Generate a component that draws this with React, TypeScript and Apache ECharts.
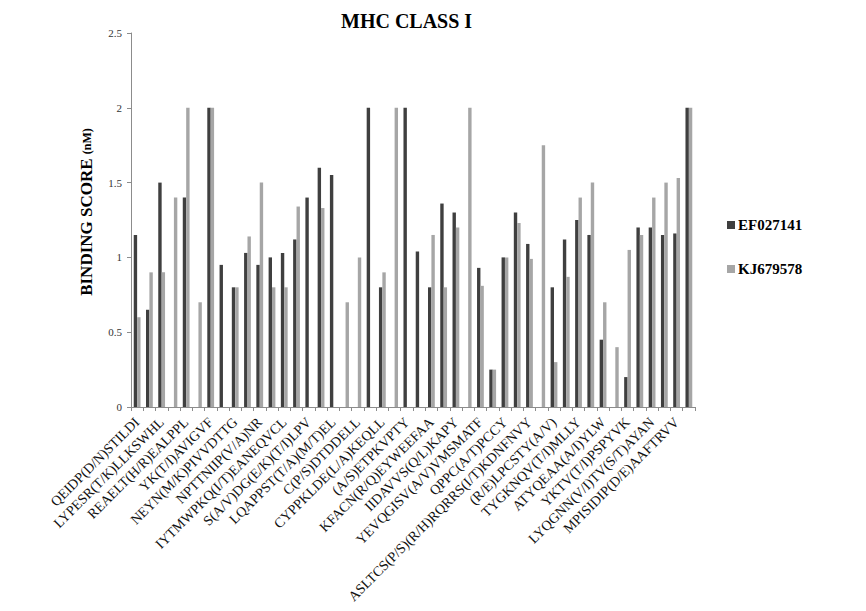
import React, { useEffect, useRef } from "react";
import * as echarts from "echarts";

const shownLabels = [
  "QEIDP(D/N)STILDI",
  "LYPESR(T/K)LLKSWHL",
  "REAELT(H/R)EALPPL",
  "YK(T/I)AVIGVF",
  "NEYN(M/K)PIVVDTTG",
  "NPTTNIIP(V/A)NR",
  "IYTMWPKQ(I/T)EANEQVCL",
  "S(A/V)DG(E/K)(T/I)LPV",
  "LQAPPST(T/A)(M/T)EL",
  "C(P/S)DTDDELL",
  "CYPPKLDE(L/A)KEQLL",
  "(A/S)ETPKVPTY",
  "KFACN(R/Q)EYWEEFAA",
  "IIDAVVS(Q/L)KAPY",
  "YEVQGISV(A/V)VMSMATF",
  "QPPC(A/T)PCCY",
  "ASLTCS(P/S)(R/H)RQRRS(I/T)KDNFNVY",
  "(R/E)LPCSTY(A/V)",
  "TYGKNQV(T/I)MLLY",
  "ATYQEAA(A/I)YLW",
  "YKTV(T/I)PSPYVK",
  "LYQGNN(V/I)TV(S/T)AYAN",
  "MPISIDIP(D/E)AAFTRVV",
];

// 46 categories; only every other one carries a visible label in the figure
const categories: string[] = [];
shownLabels.forEach((l) => {
  categories.push(l);
  categories.push("");
});

const ef027141 = [
  1.15, 0.65, 1.5, null, 1.4, null, 2.0, 0.95, 0.8, 1.03,
  0.95, 1.0, 1.03, 1.12, 1.4, 1.6, 1.55, null, null, 2.0,
  0.8, null, 2.0, 1.04, 0.8, 1.36, 1.3, null, 0.93, 0.25,
  1.0, 1.3, 1.09, null, 0.8, 1.12, 1.25, 1.15, 0.45, null,
  0.2, 1.2, 1.2, 1.15, 1.16, 2.0,
];

const kj679578 = [
  0.6, 0.9, 0.9, 1.4, 2.0, 0.7, 2.0, null, 0.8, 1.14,
  1.5, 0.8, 0.8, 1.34, null, 1.33, null, 0.7, 1.0, null,
  0.9, 2.0, null, null, 1.15, 0.8, 1.2, 2.0, 0.81, 0.25,
  1.0, 1.23, 0.99, 1.75, 0.3, 0.87, 1.4, 1.5, 0.7, 0.4,
  1.05, 1.15, 1.4, 1.5, 1.53, 2.0,
];

const yTicks = [0, 0.5, 1, 1.5, 2, 2.5];

const SERIF = "'Liberation Serif', 'Times New Roman', serif";

export default function App() {
  const ref = useRef<HTMLDivElement>(null);
  useEffect(() => {
    if (!ref.current) return;
    const chart = echarts.init(ref.current, undefined, { renderer: "svg" });
    chart.setOption({
      animation: false,
      backgroundColor: "#ffffff",
      title: {
        text: "MHC CLASS I",
        left: 336,
        top: 6,
        textStyle: {
          fontFamily: SERIF,
          fontSize: 20,
          fontWeight: "bold",
          color: "#000",
        },
      },
      legend: {
        orient: "vertical",
        left: 722,
        top: 212,
        itemWidth: 8,
        itemHeight: 8,
        itemGap: 28,
        icon: "rect",
        textStyle: {
          fontFamily: SERIF,
          fontSize: 15,
          fontWeight: "bold",
          color: "#000",
          lineHeight: 16,
          padding: [0, 0, 0, -2],
        },
        data: ["EF027141", "KJ679578"],
      },
      grid: { left: 131, top: 33, width: 564, height: 374, containLabel: false },
      xAxis: {
        type: "category",
        data: categories,
        boundaryGap: true,
        axisLine: { lineStyle: { color: "#8c8c8c", width: 1 } },
        axisTick: { show: true, interval: 0, length: 4, lineStyle: { color: "#8c8c8c" } },
        axisLabel: {
          interval: 1,
          rotate: 45,
          margin: 13,
          fontFamily: SERIF,
          fontSize: 14,
          color: "#111",
        },
        splitLine: { show: false },
      },
      yAxis: {
        type: "value",
        min: yTicks[0],
        max: yTicks[yTicks.length - 1],
        interval: 0.5,
        name: "{a|BINDING SCORE }{b|(nM)}",
        nameLocation: "middle",
        nameRotate: 90,
        nameGap: 36,
        nameTextStyle: {
          padding: [0, 0, 0, 16],
          rich: {
            a: { fontFamily: SERIF, fontSize: 17, fontWeight: "bold", color: "#000" },
            b: { fontFamily: SERIF, fontSize: 12, fontWeight: "bold", color: "#000" },
          },
        },
        axisLine: { show: true, lineStyle: { color: "#8c8c8c", width: 1 } },
        axisTick: { show: true, length: 4, lineStyle: { color: "#8c8c8c" } },
        axisLabel: {
          margin: 9,
          fontFamily: SERIF,
          fontSize: 11,
          color: "#333",
        },
        splitLine: { show: false },
      },
      series: [
        {
          name: "EF027141",
          type: "bar",
          data: ef027141,
          barWidth: 3.4,
          barGap: "0%",
          itemStyle: { color: "#3f3f3f" },
        },
        {
          name: "KJ679578",
          type: "bar",
          data: kj679578,
          barWidth: 3.4,
          barGap: "0%",
          itemStyle: { color: "#a6a6a6" },
        },
      ],
    });
    return () => chart.dispose();
  }, []);
  return (
    <div
      ref={ref}
      style={{ position: "fixed", left: 0, top: 0, width: 866, height: 611 }}
    />
  );
}
